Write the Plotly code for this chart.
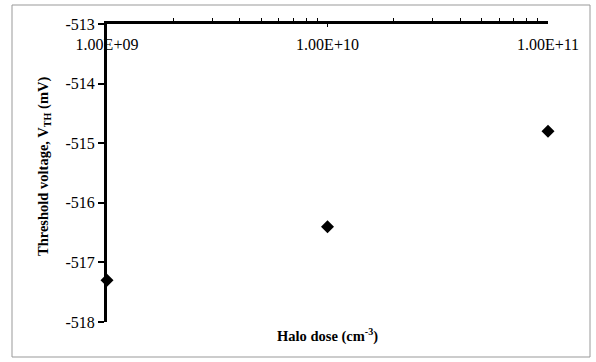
import plotly.graph_objects as go

halo_dose = [1e9, 1e10, 1e11]
vth_mv = [-517.3, -516.4, -514.8]
x_tick_vals = [1e9, 1e10, 1e11]
x_tick_text = ["1.00E+09", "1.00E+10", "1.00E+11"]
y_tick_vals = [-518, -517, -516, -515, -514, -513]
y_tick_text = ["-518", "-517", "-516", "-515", "-514", "-513"]

W, H = 596, 362
L, R, T, B = 107, 48, 24, 40
pw, ph = W - L - R, H - T - B

def px(x):
    return (x - L) / pw

def py(y):
    return (H - B - y) / ph

fig = go.Figure()
fig.add_trace(go.Scatter(
    x=halo_dose, y=vth_mv, mode="markers",
    marker=dict(symbol="diamond", size=10, color="black"),
    showlegend=False, cliponaxis=False,
))

font = dict(family="Liberation Serif, Times New Roman, serif", size=16, color="black")
tfont = dict(family="Liberation Serif, Times New Roman, serif", size=14.5, color="black")

fig.update_layout(
    width=W, height=H,
    margin=dict(l=L, r=R, t=T, b=B),
    paper_bgcolor="white", plot_bgcolor="white",
    font=font,
    xaxis=dict(
        type="log", range=[8.99999, 11.00001], side="top",
        tickvals=x_tick_vals, ticktext=x_tick_text,
        ticklabelposition="inside", ticklabeloverflow="allow",
        ticklabelstandoff=12,
        ticks="inside", ticklen=3, tickwidth=1, tickcolor="black",
        showline=True, linewidth=3, linecolor="black",
        showgrid=False, zeroline=False,
        minor=dict(ticks="outside", ticklen=3, tickcolor="black",
                   tickvals=[m * 10**e for e in (9, 10) for m in range(2, 10)]),
        tickfont=font,
    ),
    yaxis=dict(
        range=[-518, -513], tickvals=y_tick_vals, ticktext=y_tick_text,
        ticks="outside", ticklen=6, tickwidth=2, tickcolor="black",
        showline=True, linewidth=3, linecolor="black",
        showgrid=False, zeroline=False,
        tickfont=font,
    ),
    shapes=[dict(
        type="rect", xref="paper", yref="paper",
        x0=px(12), x1=px(590), y0=py(357), y1=py(5),
        line=dict(color="#999999", width=1), fillcolor="rgba(0,0,0,0)",
        layer="below",
    )],
    annotations=[
        dict(text="<b>Halo dose (cm<sup>-3</sup>)</b>", xref="paper", yref="paper",
             x=px(327), y=py(335), showarrow=False, xanchor="center", yanchor="middle",
             font=tfont),
        dict(text="<b>Threshold voltage, V<sub>TH</sub> (mV)</b>", xref="paper", yref="paper",
             x=px(44), y=py(167), showarrow=False, xanchor="center", yanchor="middle",
             textangle=-90, font=tfont),
    ],
)

fig.write_html("out.html")
